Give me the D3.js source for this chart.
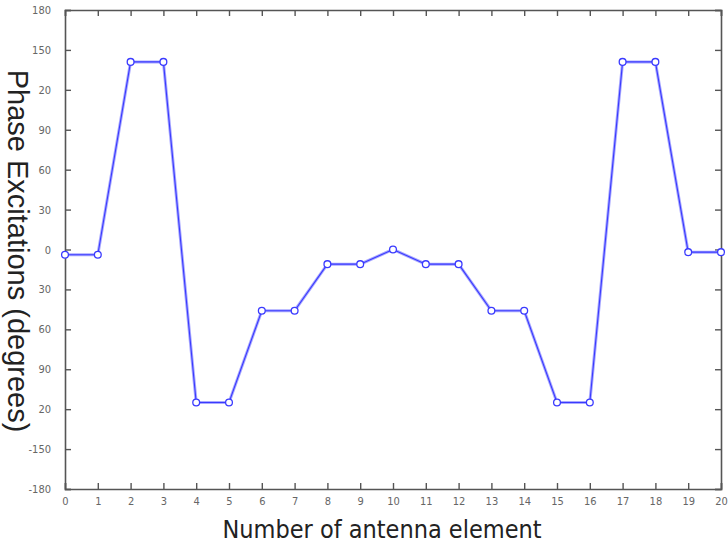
<!DOCTYPE html>
<html>
<head>
<meta charset="utf-8">
<script src="https://cdn.jsdelivr.net/npm/d3@7"></script>
<style>
  body { margin: 0; background: #fff; }
  svg { display: block; }
</style>
</head>
<body>
<script>
// antenna element number and its phase (degrees)
var elementos = [0,1,2,3,4,5,6,7,8,9,10,11,12,13,14,15,16,17,18,19,20];
var fases = [-4,-4,141,141,-115,-115,-46,-46,-11,-11,0,-11,-11,-46,-46,-115,-115,141,141,-2,-2];

var yTicks = [180,150,120,90,60,30,0,-30,-60,-90,-120,-150,-180];
// labels as printed on the original (blurred scan)
var yTickLabels = ["180","150","20","90","60","30","0","30","60","90","20","-150","-180"];

const w = 728, h = 546;
const izq = 65, der = 721, arriba = 10, abajo = 489;

const x = d3.scaleLinear().domain([0,20]).range([izq,der]);
const y = d3.scaleLinear().domain([-180,180]).range([abajo,arriba]);

const svg = d3.select('body').append('svg')
    .attr('width', w)
    .attr('height', h);

// ticks hacia adentro en los cuatro lados
svg.append('g')
    .attr('transform', 'translate(0,' + abajo + ')')
    .call(d3.axisBottom(x).ticks(20).tickSize(-6).tickPadding(8).tickFormat(d3.format('d')));
svg.append('g')
    .attr('transform', 'translate(0,' + arriba + ')')
    .call(d3.axisTop(x).ticks(20).tickSize(-6).tickFormat(''));
svg.append('g')
    .attr('transform', 'translate(' + izq + ',0)')
    .call(d3.axisLeft(y).tickValues(yTicks).tickSize(-6).tickPadding(14)
        .tickFormat(function(d,i){ return yTickLabels[i]; }));
svg.append('g')
    .attr('transform', 'translate(' + der + ',0)')
    .call(d3.axisRight(y).tickValues(yTicks).tickSize(-6).tickFormat(''));

svg.selectAll('.domain').attr('stroke', '#555').attr('stroke-width', 1.6);
svg.selectAll('.tick line').attr('stroke', '#555').attr('stroke-width', 1.4);
svg.selectAll('.tick text')
    .attr('fill', '#666')
    .style('font-family', 'Liberation Sans Narrow, DejaVu Sans Condensed, sans-serif')
    .style('font-size', '11px');

const linea = d3.line()
    .x(function(d,i){ return x(elementos[i]); })
    .y(function(d){ return y(d); });

svg.append('path')
    .datum(fases)
    .attr('fill', 'none')
    .attr('stroke', '#a8a8ff')
    .attr('stroke-width', 3)
    .attr('d', linea);
svg.append('path')
    .datum(fases)
    .attr('fill', 'none')
    .attr('stroke', '#3a3aff')
    .attr('stroke-width', 1.1)
    .attr('d', linea);

svg.selectAll('circle')
    .data(fases)
    .enter().append('circle')
    .attr('cx', function(d,i){ return x(elementos[i]); })
    .attr('cy', function(d){ return y(d); })
    .attr('r', 3.4)
    .attr('fill', '#fff')
    .attr('stroke', '#3a3aff')
    .attr('stroke-width', 1.3);

svg.append('text')
    .attr('x', 382)
    .attr('y', 538)
    .attr('text-anchor', 'middle')
    .style('font-family', 'Liberation Sans Narrow, DejaVu Sans Condensed, sans-serif')
    .style('font-size', '25px')
    .attr('fill', '#222')
    .text('Number of antenna element');

svg.append('text')
    .attr('transform', 'translate(8,251) rotate(90)')
    .attr('text-anchor', 'middle')
    .style('font-family', 'Liberation Sans, Arial, sans-serif')
    .style('font-size', '29px')
    .attr('fill', '#222')
    .text('Phase Excitations (degrees)');
</script>
</body>
</html>
